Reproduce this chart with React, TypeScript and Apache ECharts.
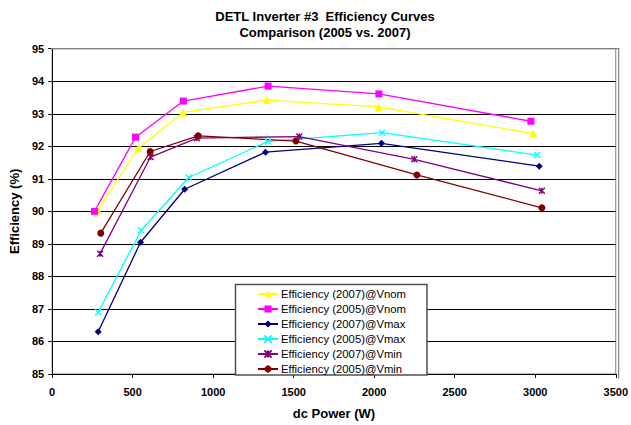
import React, { useEffect, useRef } from "react";
import * as echarts from "echarts";

const titleLines = ["DETL Inverter #3  Efficiency Curves", "Comparison (2005 vs. 2007)"];
const xAxisName = "dc Power (W)";
const yAxisName = "Efficiency (%)";

const seriesNames = [
  "Efficiency (2007)@Vnom",
  "Efficiency (2005)@Vnom",
  "Efficiency (2007)@Vmax",
  "Efficiency (2005)@Vmax",
  "Efficiency (2007)@Vmin",
  "Efficiency (2005)@Vmin",
];

const nom2007X = [284, 535, 813, 1333, 2029, 2988];
const nom2007Y = [90.04, 91.94, 93.04, 93.42, 93.21, 92.39];
const nom2005X = [263, 518, 815, 1341, 2029, 2973];
const nom2005Y = [90.0, 92.28, 93.39, 93.85, 93.61, 92.77];
const max2007X = [286, 549, 823, 1325, 2045, 3025];
const max2007Y = [86.3, 89.05, 90.68, 91.82, 92.09, 91.39];
const max2005X = [286, 553, 848, 1341, 2049, 3012];
const max2005Y = [86.9, 89.42, 91.04, 92.15, 92.42, 91.73];
const min2007X = [298, 611, 899, 1535, 2249, 3041];
const min2007Y = [88.7, 91.67, 92.25, 92.3, 91.6, 90.63];
const min2005X = [302, 609, 907, 1514, 2265, 3041];
const min2005Y = [89.33, 91.84, 92.32, 92.16, 91.12, 90.11];

const seriesX = [nom2007X, nom2005X, max2007X, max2005X, min2007X, min2005X];
const seriesY = [nom2007Y, nom2005Y, max2007Y, max2005Y, min2007Y, min2005Y];
const seriesColors = ["#FFFF00", "#FF00FF", "#000080", "#00FFFF", "#800080", "#800000"];
const seriesSymbols = [
  "triangle",
  "rect",
  "diamond",
  "path://M0,0L10,10M10,0L0,10",
  "path://M0,0L10,10M10,0L0,10M5,0L5,10",
  "circle",
];
const seriesSymbolSizes = [8, 7, 7, 6, 6, 7];

export default function App() {
  const ref = useRef<HTMLDivElement>(null);
  useEffect(() => {
    document.body.style.margin = "0";
    if (!ref.current) return;
    const chart = echarts.init(ref.current, null, { renderer: "svg" });
    const font = "Liberation Sans, Arial, sans-serif";
    const series = seriesNames.map((name, i) => ({
      name,
      type: "line",
      data: seriesX[i].map((x, j) => [x, seriesY[i][j]]),
      symbol: seriesSymbols[i],
      symbolSize: seriesSymbolSizes[i],
      showSymbol: true,
      lineStyle: { color: seriesColors[i], width: 1.3 },
      itemStyle: {
        color: seriesColors[i],
        borderColor: seriesColors[i],
        borderWidth: i === 3 || i === 4 ? 1.4 : 0,
      },
      z: 3,
    }));
    chart.setOption({
      animation: false,
      backgroundColor: "#ffffff",
      textStyle: { fontFamily: font },
      title: {
        text: titleLines.join("\n"),
        left: 325,
        top: 8,
        textAlign: "center",
        padding: 0,
        textStyle: {
          fontFamily: font,
          fontSize: 13,
          fontWeight: "bold",
          color: "#000",
          lineHeight: 16,
        },
      },
      grid: {
        left: 51,
        right: 12.3,
        top: 48.7,
        bottom: 46.3,
        show: true,
        borderColor: "#808080",
        borderWidth: 1,
      },
      xAxis: {
        type: "value",
        min: 0,
        max: 3500,
        interval: 500,
        name: xAxisName,
        nameLocation: "middle",
        nameGap: 33,
        nameTextStyle: { fontFamily: font, fontSize: 13, fontWeight: "bold", color: "#000" },
        axisLine: { show: true, lineStyle: { color: "#000", width: 1 } },
        axisTick: { show: true, length: 4, inside: false, lineStyle: { color: "#000" } },
        axisLabel: {
          fontFamily: font,
          fontSize: 11,
          fontWeight: "bold",
          color: "#000",
          margin: 12,
          formatter: (v: number) => String(v),
        },
        splitLine: { show: false },
      },
      yAxis: {
        type: "value",
        min: 85,
        max: 95,
        interval: 1,
        name: yAxisName,
        nameLocation: "middle",
        nameGap: 27,
        nameRotate: 90,
        nameTextStyle: { fontFamily: font, fontSize: 13, fontWeight: "bold", color: "#000" },
        axisLine: { show: true, lineStyle: { color: "#000", width: 1 } },
        axisTick: { show: true, length: 4, inside: false, lineStyle: { color: "#000" } },
        axisLabel: {
          fontFamily: font,
          fontSize: 11,
          fontWeight: "bold",
          color: "#000",
          margin: 8,
          formatter: (v: number) => String(v),
        },
        splitLine: { show: true, lineStyle: { color: "#000", width: 1 } },
      },
      legend: {
        orient: "vertical",
        left: 257,
        top: 288,
        padding: 0,
        itemWidth: 20,
        itemHeight: 9,
        itemGap: 3,
        data: seriesNames,
        textStyle: { fontFamily: font, fontSize: 11.3, lineHeight: 12, color: "#000", padding: [0, 0, 0, -2] },
        z: 10,
      },
      graphic: [
        {
          type: "polyline",
          z: 5,
          shape: { points: [[51, 48.7], [618.7, 48.7], [618.7, 378.7]] },
          style: { stroke: "#808080", lineWidth: 1.2, fill: null },
        },
        {
          type: "rect",
          z: 4,
          shape: { x: 235.5, y: 284.5, width: 191.5, height: 90.5 },
          style: { fill: "#ffffff", stroke: "#505050", lineWidth: 1.5 },
        },
      ],
      series,
    });
    return () => chart.dispose();
  }, []);
  return <div ref={ref} style={{ width: 631, height: 425 }} />;
}
